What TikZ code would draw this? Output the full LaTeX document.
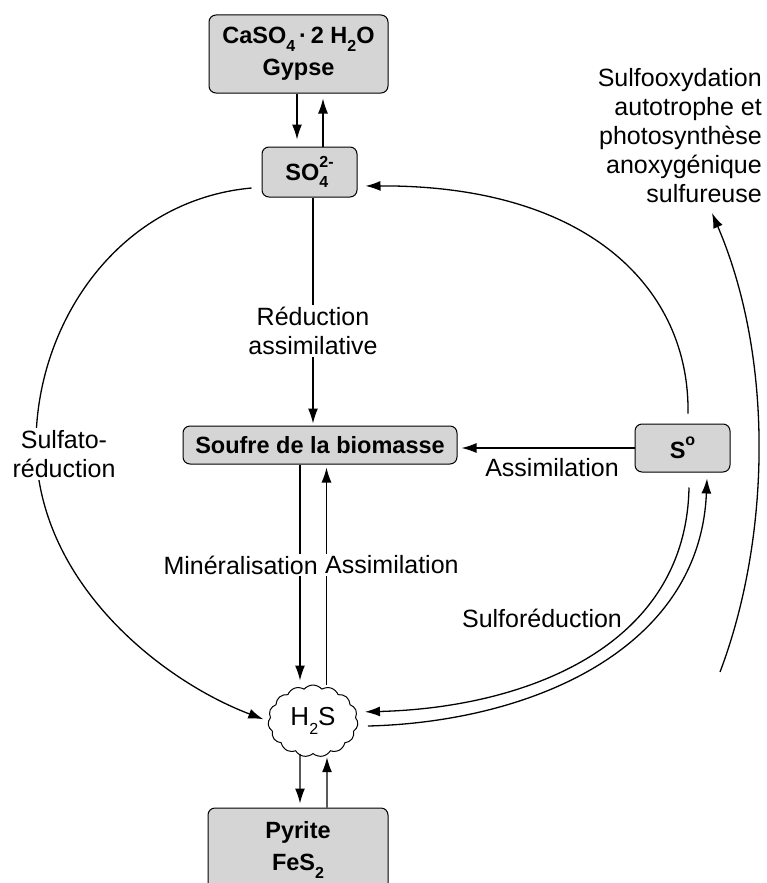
\documentclass[tikz,border=0pt]{standalone}
\usepackage{fontspec}
\setmainfont{Liberation Sans}
\usetikzlibrary{arrows.meta,shapes.symbols}
% small lowered / raised indices for chemical formulas
\newcommand{\lowidx}[1]{\raisebox{-0.32em}{\fontsize{16}{16}\selectfont #1}}
\newcommand{\highidx}[1]{\raisebox{0.55em}{\fontsize{16}{16}\selectfont #1}}
\begin{document}
\begin{tikzpicture}[x=1pt,y=-1pt,
  box/.style={draw, line width=1pt, rounded corners=7pt, fill=gray!33,
    font=\fontsize{23.5}{32}\selectfont\bfseries, align=center, inner sep=0pt},
  lbl/.style={font=\fontsize{25}{29}\selectfont, align=center, inner sep=2pt},
  mask/.style={fill=white},
  ln/.style={line width=1.3pt},
  arr/.style={line width=1.3pt, -{Latex[length=15pt,width=10pt]}}]
\useasboundingbox (0,0) rectangle (766,883);
\clip (0,0) rectangle (766,883);

% compartments
\node[box, minimum width=179pt, minimum height=78pt] (gyp) at (298.5,54)
  {CaSO\lowidx{4}\,·\,2 H\lowidx{2}O\\Gypse};
\node[box, minimum width=95pt, minimum height=50pt] (so4) at (309.5,172)
  {SO\rlap{\lowidx{4}}\highidx{2-}};
\node[box, minimum width=274pt, minimum height=38pt] (bio) at (320,445)
  {Soufre de la biomasse};
\node[box, minimum width=95pt, minimum height=48pt] (s0) at (682.5,448)
  {S\highidx{o}};
\node[box, minimum width=180pt, minimum height=84pt] (pyr) at (298,850)
  {Pyrite\\FeS\lowidx{2}};
\node[cloud, draw, fill=white, line width=1pt, cloud puffs=15,
  cloud puff arc=100, minimum width=90pt, minimum height=72pt,
  inner sep=0pt, font=\fontsize{26}{26}\selectfont] (h2s) at (313,721)
  {H\lowidx{2}S};

% free ends of the oxidation arc
\coordinate (oxlow) at (720,672);
\coordinate (oxtop) at (712,213);

% gypsum <-> sulfate
\draw[arr, shorten >=7pt] ([xshift=-1.5pt]gyp.south) -- ([xshift=-12.5pt]so4.north);
\draw[arr, shorten >=5pt] ([xshift=13.5pt]so4.north) -- ([xshift=24.5pt]gyp.south);

% assimilatory reduction
\draw[arr, shorten >=2pt] ([xshift=3.5pt]so4.south) -- ([xshift=-7pt]bio.north);

% biomass <-> H2S
\draw[arr, shorten >=4pt] ([xshift=-20pt]bio.south) -- ([xshift=-13pt]h2s.north);
\draw[arr, shorten >=3pt] ([xshift=13.5pt]h2s.north) -- ([xshift=6.5pt]bio.south);

% H2S <-> pyrite
\draw[arr, shorten >=4pt] ([xshift=-13pt]h2s.south) -- ([xshift=2pt]pyr.north);
\draw[arr, shorten >=3pt] ([xshift=29pt]pyr.north) -- ([xshift=14pt]h2s.south);

% S0 -> biomass
\draw[arr, shorten >=4pt] (s0.west) -- (bio.east |- s0.west);

% S0 -> sulfate
\draw[arr, shorten >=8pt] ([xshift=5.5pt,yshift=10pt]s0.north)
  .. controls (690,290) and (590,185) .. ([yshift=-14pt]so4.east);

% sulfate reduction
\draw[arr, shorten >=5pt] ([xshift=-10pt,yshift=-16pt]so4.west)
  .. controls (120,200) and (38,320) .. (36,440)
  .. controls (34,580) and (160,680) .. (h2s.west);

% sulfur reduction pair
\draw[arr, shorten >=7pt] ([xshift=6.5pt,yshift=-15pt]s0.south)
  .. controls (686,650) and (520,708) .. ([yshift=9pt]h2s.east);
\draw[arr] ([xshift=10pt,yshift=-5pt]h2s.east)
  .. controls (530,722) and (700,650) .. ([xshift=24.5pt,yshift=-6pt]s0.south);

% oxidation arc
\draw[arr] (oxlow) .. controls (770,540) and (775,360) .. (oxtop);

% labels
\node[lbl, mask] (lred) at (313,331) {Réduction\\assimilative};
\node[lbl, mask] (lsulf) at (64,454) {Sulfato-\\réduction};
\node[lbl, mask, anchor=east] (lmin) at (320,565) {Minéralisation};
\node[lbl, mask, anchor=west] (lass) at (323,565) {Assimilation};
\node[lbl] (lass2) at (552,468) {Assimilation};
\node[lbl] (lsred) at (542,618) {Sulforéduction};
\node[lbl, align=right, anchor=east] (lox) at (764,135.5)
  {Sulfooxydation\\autotrophe et\\photosynthèse\\anoxygénique\\sulfureuse};
\end{tikzpicture}
\end{document}
